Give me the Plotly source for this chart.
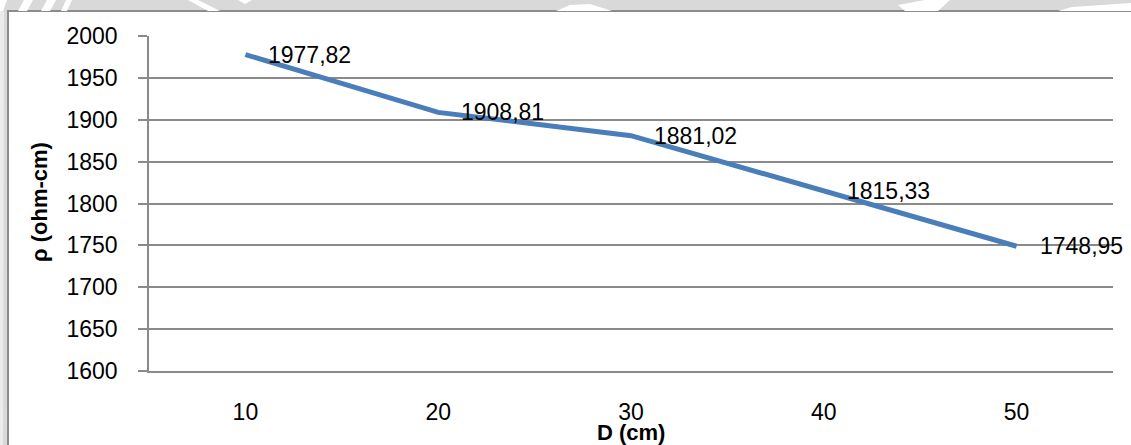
import plotly.graph_objects as go

# Resistivity versus electrode spacing
depth_cm = ["10", "20", "30", "40", "50"]
resistivity = [1977.82, 1908.81, 1881.02, 1815.33, 1748.95]
y_ticks = [1600, 1650, 1700, 1750, 1800, 1850, 1900, 1950, 2000]

W, H = 1131, 445
ML, MR, MT, MB = 149, 18, 36, 74
PW, PH = W - ML - MR, H - MT - MB

FONT = "Liberation Sans, Arial, sans-serif"
LINE_BLUE = "#4a7ebb"
GRID = "#8a8a8a"


def px(x):
    return (x - ML) / PW


def py(y):
    return (H - MB - y) / PH


def fmt(v):
    return f"{v:.2f}".replace(".", ",")


fig = go.Figure()
fig.add_trace(go.Scatter(
    x=depth_cm, y=resistivity, mode="lines",
    line=dict(color=LINE_BLUE, width=5),
    hoverinfo="skip", showlegend=False,
))

# value labels to the right of each point (x given as category index)
for i, v in enumerate(resistivity):
    fig.add_annotation(x=i, y=v, xref="x", yref="y", text=fmt(v),
                       showarrow=False, xanchor="left", yanchor="middle",
                       xshift=21, font=dict(family=FONT, size=23, color="#000"))

# axis titles
fig.add_annotation(x=0.5, y=py(433), xref="paper", yref="paper",
                   text="<b>D (cm)</b>", showarrow=False,
                   xanchor="center", yanchor="middle",
                   font=dict(family=FONT, size=22, color="#000"))
fig.add_annotation(x=px(39), y=py(202), xref="paper", yref="paper",
                   text="<b>ρ (ohm-cm)</b>", showarrow=False, textangle=-90,
                   xanchor="center", yanchor="middle",
                   font=dict(family=FONT, size=22, color="#000"))

shapes = []


def poly(pts, color="#ffffff"):
    path = "M " + " L ".join(f"{px(a):.5f},{py(b):.5f}" for a, b in pts) + " Z"
    shapes.append(dict(type="path", path=path, xref="paper", yref="paper",
                       fillcolor=color, line=dict(width=0), layer="below"))


# light streaks in the grey margin
poly([(0, 0), (7, 0), (3, 11), (0, 11)])
poly([(24, 0), (33, 0), (27, 11), (18, 11)])
poly([(47, 0), (56, 0), (50, 11), (41, 11)])
poly([(66, 0), (72, 0), (67, 11), (61, 11)])
poly([(188, 0), (198, 0), (220, 11), (208, 11)])
poly([(238, 0), (252, 0), (245, 4)])
poly([(556, 11), (570, 5), (590, 4), (612, 11)])
poly([(898, 5), (925, 0), (950, 0), (938, 11), (905, 11)])
poly([(1058, 11), (1072, 7), (1131, 3), (1131, 11)])
poly([(0, 11), (4, 11), (3, 445), (0, 445)], "#ececec")

# white chart frame with grey border
shapes.insert(0, dict(type="rect", xref="paper", yref="paper",
                      x0=px(8), x1=px(1140), y0=py(11), y1=py(460),
                      fillcolor="#ffffff", line=dict(color="#8c8c8c", width=2),
                      layer="below"))

fig.update_layout(
    width=W, height=H,
    margin=dict(l=ML, r=MR, t=MT, b=MB, pad=0),
    paper_bgcolor="#d9d9d9",
    plot_bgcolor="rgba(0,0,0,0)",
    font=dict(family=FONT, size=23, color="#000"),
    shapes=shapes,
    xaxis=dict(type="category", categoryorder="array", categoryarray=depth_cm,
               range=[-0.5, 4.5], showgrid=False, zeroline=False,
               showline=True, linecolor=GRID, linewidth=1.5,
               ticks="", tickfont=dict(family=FONT, size=23, color="#000"),
               ticklabelstandoff=20),
    yaxis=dict(range=[1600, 2000], tickvals=y_ticks, showgrid=True,
               gridcolor=GRID, gridwidth=1.5, zeroline=False,
               showline=True, linecolor=GRID, linewidth=1.5,
               ticks="outside", ticklen=9, tickcolor=GRID, tickwidth=1.5,
               tickfont=dict(family=FONT, size=23, color="#000"),
               ticklabelstandoff=16),
)

fig.write_html("out.html")
